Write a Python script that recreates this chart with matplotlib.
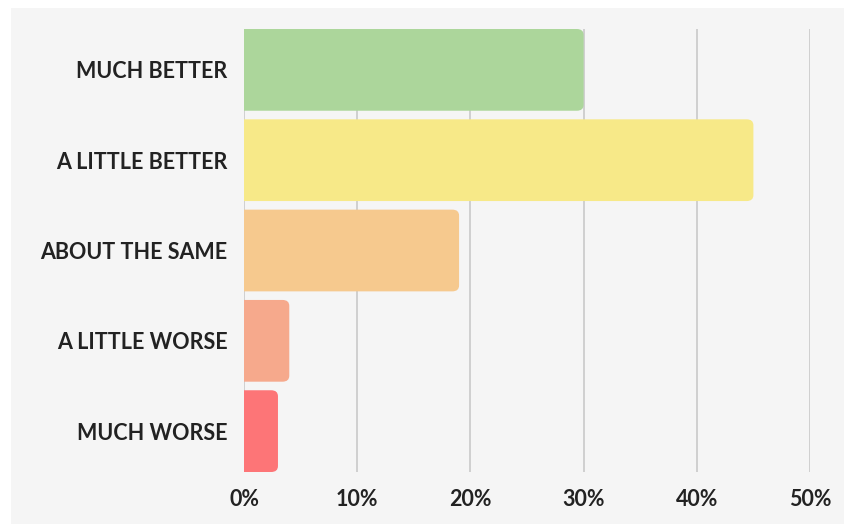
import matplotlib
matplotlib.use("Agg")
import matplotlib.pyplot as plt
from matplotlib.patches import FancyBboxPatch, Rectangle
from matplotlib.ticker import FuncFormatter

# survey answers, top to bottom
categories = ["MUCH BETTER", "A LITTLE BETTER", "ABOUT THE SAME", "A LITTLE WORSE", "MUCH WORSE"]
values = [30, 45, 19, 4, 3]
colors = ["#acd69b", "#f7e988", "#f6c98e", "#f6a98c", "#fd7577"]
xticks = [0, 10, 20, 30, 40, 50]

plt.rcParams["font.family"] = ["Lato", "DejaVu Sans"]

fig = plt.figure(figsize=(8.44, 5.24), dpi=100, facecolor="white")
# light grey card behind the chart
fig.patches.append(Rectangle((11 / 844, 0), 1, 1 - 8 / 524, transform=fig.transFigure,
                             facecolor="#f5f5f5", edgecolor="none", zorder=-5))

ax = fig.add_axes([244 / 844, 52 / 524, 566 / 844, 443 / 524])
ax.set_facecolor("none")

ypos = list(range(len(categories)))
bar_h = 0.905
bars = ax.barh(ypos, values, height=bar_h, color=colors)

# swap plain bars for rounded ones (left corners pushed out of view)
rad = 0.6
for bar in bars:
    x, y = bar.get_x(), bar.get_y()
    w, h = bar.get_width(), bar.get_height()
    box = FancyBboxPatch((x - 2, y), w + 2, h,
                         boxstyle=f"round,pad=0,rounding_size={rad}",
                         mutation_aspect=0.11,
                         facecolor=bar.get_facecolor(), edgecolor="none", zorder=2)
    ax.add_patch(box)
    bar.set_visible(False)

ax.set_xlim(0, 50)
ax.set_ylim(len(categories) - 1 + bar_h / 2, -bar_h / 2)
ax.set_yticks(ypos)
ax.set_yticklabels(categories)
ax.set_xticks(xticks)
ax.xaxis.set_major_formatter(FuncFormatter(lambda v, p: f"{v:.0f}%"))

ax.grid(axis="x", color="#cfcfcf", linewidth=1.4, zorder=0)
ax.set_axisbelow(True)
for s in ax.spines.values():
    s.set_visible(False)
ax.tick_params(length=0, labelsize=15.5, labelcolor="#222222")
ax.tick_params(axis="y", pad=12)
ax.tick_params(axis="x", pad=12)
for lbl in ax.get_xticklabels() + ax.get_yticklabels():
    lbl.set_fontweight("bold")

fig.savefig("out.png", dpi=100, facecolor="white")
